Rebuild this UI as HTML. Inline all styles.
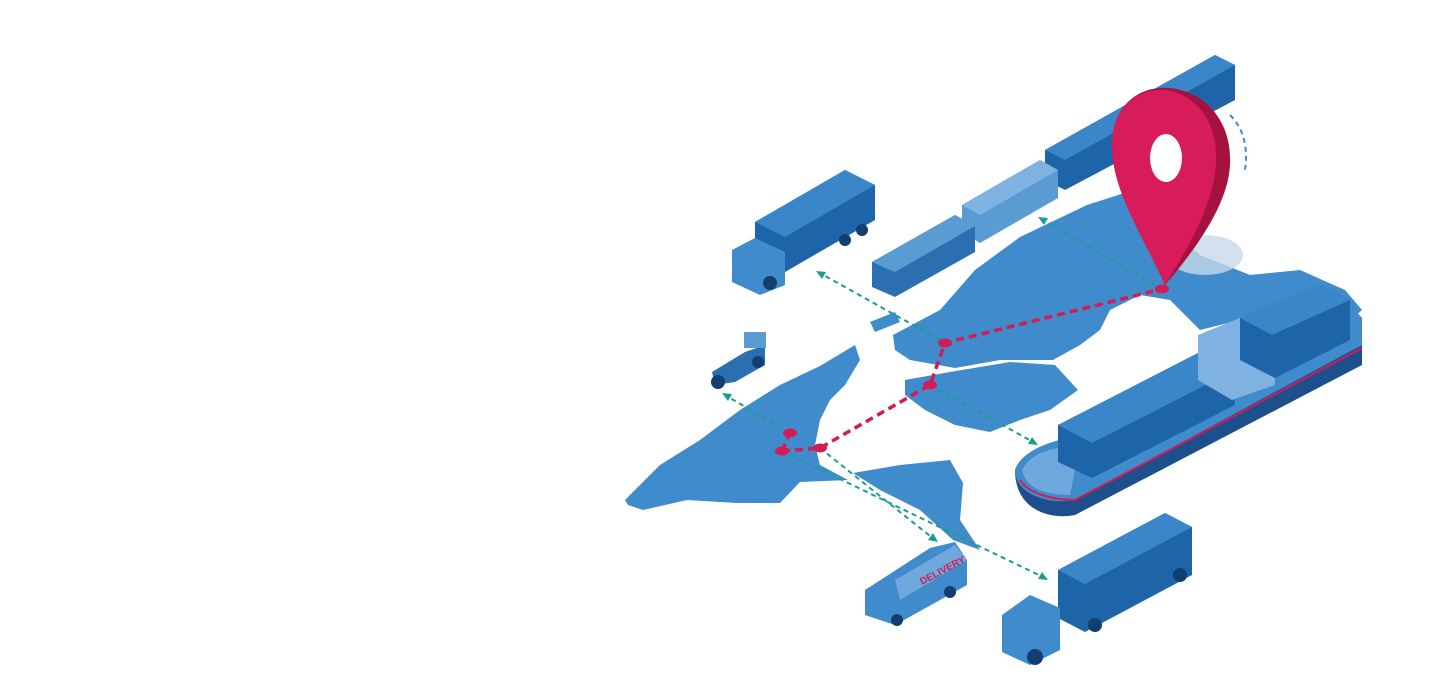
<!DOCTYPE html>
<html><head><meta charset="utf-8"><style>
html,body{margin:0;padding:0;background:#fff;width:1435px;height:700px;overflow:hidden}
svg{display:block}
</style></head><body>
<svg width="1435" height="700" viewBox="0 0 1435 700" xmlns="http://www.w3.org/2000/svg">
<!-- map -->
<g fill="#3f8bcb">
<polygon points="625,500 660,465 700,440 740,410 780,385 820,366 855,345 860,360 845,385 830,400 820,420 815,445 820,465 848,480 800,482 780,503 737,503 687,500 643,510 628,505"/>
<polygon points="853,473 900,465 950,460 963,483 960,520 980,550 953,540 920,510 880,490"/>
<polygon points="893,335 940,310 975,270 1020,237 1087,205 1140,188 1170,230 1200,255 1250,275 1300,270 1345,290 1362,310 1345,325 1300,335 1240,320 1200,330 1170,300 1140,295 1110,310 1100,330 1080,345 1053,360 1000,360 955,368 910,360 895,350"/>
<polygon points="905,380 950,372 1010,362 1055,365 1078,390 1050,410 1020,420 990,432 955,425 925,410 905,395"/>
<polygon points="870,322 895,312 900,322 875,332"/>
</g>
<ellipse cx="1205" cy="255" rx="38" ry="20" fill="#c8d8ea" opacity=".8"/>
<!-- teal dashed arrows -->
<g stroke="#1a9e8e" stroke-width="2" stroke-dasharray="5,4" fill="none">
<line x1="940" y1="340" x2="818" y2="272"/>
<line x1="1162" y1="289" x2="1040" y2="218"/>
<line x1="790" y1="433" x2="725" y2="395"/>
<line x1="930" y1="385" x2="1035" y2="443"/>
<line x1="820" y1="448" x2="935" y2="540"/>
<line x1="782" y1="451" x2="1045" y2="578"/>
</g>
<g fill="#1a9e8e">
<polygon points="816,271 826,272 822,279"/><polygon points="1038,217 1048,218 1044,225"/>
<polygon points="722,393 732,394 728,401"/><polygon points="1038,445 1028,444 1032,437"/>
<polygon points="938,542 928,540 933,533"/><polygon points="1048,580 1038,579 1042,572"/>
</g>
<!-- red route -->
<g stroke="#d31c56" stroke-width="3.5" stroke-dasharray="8,5" fill="none">
<polyline points="782,451 820,448 930,385 945,343 1162,289"/>
<line x1="782" y1="451" x2="790" y2="433"/>
</g>
<g fill="#d31c56">
<ellipse cx="782" cy="451" rx="7" ry="4.5"/><ellipse cx="820" cy="448" rx="7" ry="4.5"/>
<ellipse cx="790" cy="433" rx="7" ry="4.5"/><ellipse cx="930" cy="385" rx="7" ry="4.5"/>
<ellipse cx="945" cy="343" rx="7" ry="4.5"/><ellipse cx="1162" cy="289" rx="7" ry="4.5"/>
</g>
<!-- train -->
<polygon points="1045,150 1215,55 1235,65 1235,100 1065,190 1045,180" fill="#1d64a8"/>
<polygon points="1045,150 1215,55 1235,65 1065,160" fill="#3a86c8"/>
<polygon points="962,205 1040,160 1058,170 1058,198 980,243 962,232" fill="#5a9bd4"/>
<polygon points="962,205 1040,160 1058,170 980,215" fill="#7fb2e0"/>
<polygon points="872,262 955,215 975,226 975,252 895,297 872,287" fill="#2b6fb0"/>
<polygon points="872,262 955,215 975,226 895,272" fill="#5a9bd4"/>
<!-- top truck -->
<polygon points="755,222 845,170 875,185 875,220 785,272 755,258" fill="#1d64a8"/>
<polygon points="755,222 845,170 875,185 785,237" fill="#3a86c8"/>
<polygon points="732,250 755,238 785,252 785,285 760,295 732,282" fill="#3f8bcb"/>
<circle cx="770" cy="283" r="7" fill="#123f70"/><circle cx="845" cy="240" r="6" fill="#123f70"/><circle cx="862" cy="230" r="6" fill="#123f70"/>
<!-- pin -->
<path d="M1165,285 C1140,230 1112,190 1112,145 C1112,105 1140,85 1170,88 C1205,92 1232,120 1230,165 C1228,205 1195,250 1165,285Z" fill="#a5123f"/>
<path d="M1165,285 C1140,230 1112,190 1112,145 C1112,110 1135,88 1165,90 C1195,94 1218,120 1216,162 C1214,205 1188,248 1165,285Z" fill="#d81b5a"/>
<ellipse cx="1166" cy="158" rx="16" ry="24" fill="#fff"/>
<path d="M1230,115 Q1250,135 1245,170" stroke="#3f8bcb" stroke-width="2" stroke-dasharray="5,4" fill="none"/>
<!-- ship -->
<path d="M1015,470 C1020,455 1040,445 1060,440 L1345,300 L1362,318 L1362,365 L1075,515 C1050,520 1015,510 1015,470Z" fill="#1d4f8c"/>
<path d="M1015,470 C1020,455 1040,445 1060,440 L1345,300 L1362,318 L1362,345 L1075,500 C1050,505 1015,495 1015,470Z" fill="#3f8bcb"/>
<path d="M1020,480 C1030,495 1055,500 1075,500 L1362,348" stroke="#d31c56" stroke-width="2" fill="none"/>
<path d="M1022,470 C1030,455 1045,450 1060,448 L1075,470 1070,495 C1045,495 1025,488 1022,470Z" fill="#6fa8dc"/>
<polygon points="1058,425 1200,352 1235,370 1235,405 1092,478 1058,462" fill="#1d64a8"/>
<polygon points="1058,425 1200,352 1235,370 1092,443" fill="#3a86c8"/>
<polygon points="1198,335 1240,318 1275,338 1275,385 1232,400 1198,380" fill="#7fb2e0"/>
<polygon points="1240,318 1320,285 1350,300 1350,340 1275,378 1240,360" fill="#1d64a8"/>
<polygon points="1240,318 1320,285 1350,300 1272,335" fill="#3a86c8"/>
<!-- scooter -->
<polygon points="712,372 745,352 765,345 765,365 735,382 715,385" fill="#2b6fb0"/>
<rect x="744" y="332" width="22" height="16" fill="#5a9bd4"/>
<circle cx="718" cy="382" r="7" fill="#123f70"/><circle cx="758" cy="362" r="6" fill="#123f70"/>
<!-- van -->
<polygon points="865,590 930,548 955,542 967,560 967,585 895,625 865,615" fill="#3f8bcb"/>
<polygon points="895,580 955,545 967,560 900,600" fill="#6fa8dc"/>
<text x="922" y="585" font-family="Liberation Sans,sans-serif" font-size="10" font-weight="bold" fill="#d31c56" transform="rotate(-28 922 585)">DELIVERY</text>
<circle cx="897" cy="620" r="6" fill="#123f70"/><circle cx="950" cy="592" r="6" fill="#123f70"/>
<!-- bottom truck -->
<polygon points="1058,570 1165,513 1192,527 1192,575 1085,632 1058,618" fill="#1d64a8"/>
<polygon points="1058,570 1165,513 1192,527 1085,584" fill="#3a86c8"/>
<polygon points="1002,615 1030,595 1060,608 1060,650 1030,665 1002,652" fill="#3f8bcb"/>
<circle cx="1035" cy="657" r="8" fill="#123f70"/><circle cx="1095" cy="625" r="7" fill="#123f70"/><circle cx="1180" cy="575" r="7" fill="#123f70"/>
</svg>
</body></html>
